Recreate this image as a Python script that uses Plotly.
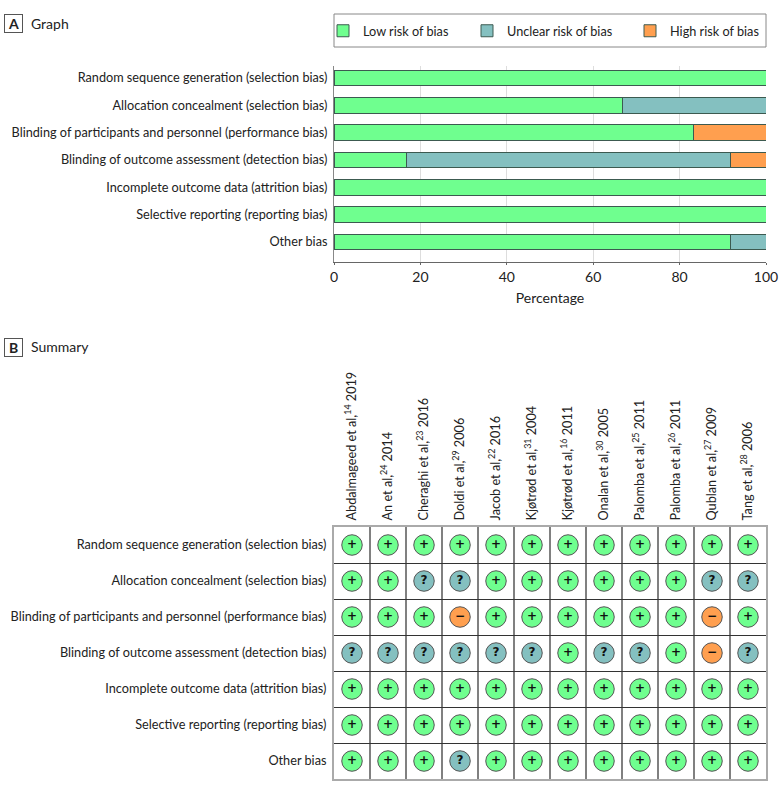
import plotly.graph_objects as go

FONT = "Lato, Roboto, sans-serif"
W, H = 780, 793

domains = ["Random sequence generation (selection bias)",
           "Allocation concealment (selection bias)",
           "Blinding of participants and personnel (performance bias)",
           "Blinding of outcome assessment (detection bias)",
           "Incomplete outcome data (attrition bias)",
           "Selective reporting (reporting bias)",
           "Other bias"]
low_pct = [100, 66.7, 83.3, 16.7, 100, 100, 91.7]
unclear_pct = [0, 33.3, 0, 75, 0, 0, 8.3]
high_pct = [0, 0, 16.7, 8.3, 0, 0, 0]
x_ticks = [0, 20, 40, 60, 80, 100]

studies = ["Abdalmageed et al,<sup>14</sup> 2019", "An et al,<sup>24</sup> 2014",
           "Cheraghi et al,<sup>23</sup> 2016", "Doldi et al,<sup>29</sup> 2006",
           "Jacob et al,<sup>22</sup> 2016", "Kjøtrød et al,<sup>31</sup> 2004",
           "Kjøtrød et al,<sup>16</sup> 2011", "Onalan et al,<sup>30</sup> 2005",
           "Palomba et al,<sup>25</sup> 2011", "Palomba et al,<sup>26</sup> 2011",
           "Qublan et al,<sup>27</sup> 2009", "Tang et al,<sup>28</sup> 2006"]
summary = ["++++++++++++",
           "++??++++++??",
           "+++-++++++-+",
           "??????+??+-?",
           "++++++++++++",
           "++++++++++++",
           "+++?++++++++"]

GREEN, TEAL, ORANGE = "#6fff8f", "#84c0c0", "#ff9f4f"
EDGE = "#3c5a50"
levels = [("Low risk of bias", low_pct, GREEN, "+", "<b>+</b>"),
          ("Unclear risk of bias", unclear_pct, TEAL, "?", "<b>?</b>"),
          ("High risk of bias", high_pct, ORANGE, "-", "<b>−</b>")]
legend_x = [323, 467, 630]
legend_names = ["legend", "legend2", "legend3"]

fig = go.Figure()
for (name, vals, col, code, glyph), lg in zip(levels, legend_names):
    fig.add_trace(go.Bar(y=domains, x=vals, name=name, orientation="h", width=0.58,
                         marker=dict(color=col, line=dict(color=EDGE, width=1)),
                         xaxis="x", yaxis="y", legend=lg, hoverinfo="x+y"))
for (name, vals, col, code, glyph) in levels:
    xs, ys = [], []
    for r, row in enumerate(summary):
        for c, v in enumerate(row):
            if v == code:
                xs.append(studies[c]); ys.append(domains[r])
    fig.add_trace(go.Scatter(x=xs, y=ys, mode="markers+text", showlegend=False,
                             text=[glyph] * len(xs), textposition="middle center",
                             textfont=dict(family="DejaVu Sans", size=12, color="#111"),
                             marker=dict(size=20.5, color=col, line=dict(color="#555", width=1)),
                             xaxis="x2", yaxis="y2", name=name))

LABEL = 12.7
def legend_at(px):
    return dict(x=px / W, y=1 - 31 / H, xanchor="left", yanchor="middle", bgcolor="rgba(0,0,0,0)",
                borderwidth=0, font=dict(family=FONT, size=LABEL, color="#222"),
                itemwidth=30, tracegroupgap=0)

tick_font = dict(family=FONT, size=LABEL, color="#222")
num_font = dict(family=FONT, size=14, color="#222")
head_font = dict(family=FONT, size=14, color="#222")
fig.update_layout(
    width=W, height=H, margin=dict(l=0, r=0, t=0, b=0, autoexpand=False), autosize=False,
    paper_bgcolor="white", plot_bgcolor="white", barmode="stack", bargap=0.4,
    legend=legend_at(legend_x[0]), legend2=legend_at(legend_x[1]), legend3=legend_at(legend_x[2]),
    xaxis=dict(domain=[334 / W, 766 / W], anchor="y", range=[0, 100], tickvals=x_ticks,
               showgrid=True, gridcolor="#dddddd", gridwidth=1, showline=True, linecolor="#666",
               ticks="outside", ticklen=2, tickcolor="#666", tickfont=num_font,
               title=dict(text="Percentage", font=head_font, standoff=9)),
    yaxis=dict(domain=[1 - 262 / H, 1 - 66 / H], anchor="x", categoryorder="array",
               categoryarray=domains, range=[6.73, -0.44], showgrid=False, showline=True,
               linecolor="#888", ticks="", tickfont=tick_font, ticklabelstandoff=3),
    xaxis2=dict(domain=[334 / W, 766 / W], anchor="y2", side="top", type="category",
                categoryorder="array", categoryarray=studies, range=[-0.5, 11.5],
                tickson="boundaries", tickangle=-90, ticks="", tickfont=tick_font,
                ticklabelstandoff=2,
                showgrid=True, gridcolor="#808080", gridwidth=1.5, showline=True,
                linecolor="#aaaaaa", linewidth=2, mirror=True),
    yaxis2=dict(domain=[1 - 779 / H, 1 - 527 / H], anchor="x2", type="category",
                categoryorder="array", categoryarray=domains, range=[6.5, -0.5],
                tickson="boundaries", ticks="", tickfont=tick_font, ticklabelstandoff=3,
                showgrid=True, gridcolor="#333333", gridwidth=1, showline=True,
                linecolor="#aaaaaa", linewidth=2, mirror=True),
    shapes=[dict(type="rect", xref="paper", yref="paper", x0=334 / W, x1=766 / W,
                 y0=1 - 47 / H, y1=1 - 14 / H, line=dict(color="#888", width=1), layer="below")],
    annotations=[
        dict(text="<b>A</b>", x=13 / W, y=1 - 24 / H, xref="paper", yref="paper", showarrow=False,
             xanchor="center", yanchor="middle", font=head_font, bordercolor="#555", borderwidth=1,
             borderpad=1, width=15, height=15),
        dict(text="Graph", x=29 / W, y=1 - 23 / H, xref="paper", yref="paper", showarrow=False,
             xanchor="left", yanchor="middle", font=head_font),
        dict(text="<b>B</b>", x=13 / W, y=1 - 347 / H, xref="paper", yref="paper", showarrow=False,
             xanchor="center", yanchor="middle", font=head_font, bordercolor="#555", borderwidth=1,
             borderpad=1, width=15, height=15),
        dict(text="Summary", x=29 / W, y=1 - 346 / H, xref="paper", yref="paper", showarrow=False,
             xanchor="left", yanchor="middle", font=head_font),
    ],
)
fig.write_html("out.html", post_script="document.body.style.margin='0';",
               config=dict(displayModeBar=False))
